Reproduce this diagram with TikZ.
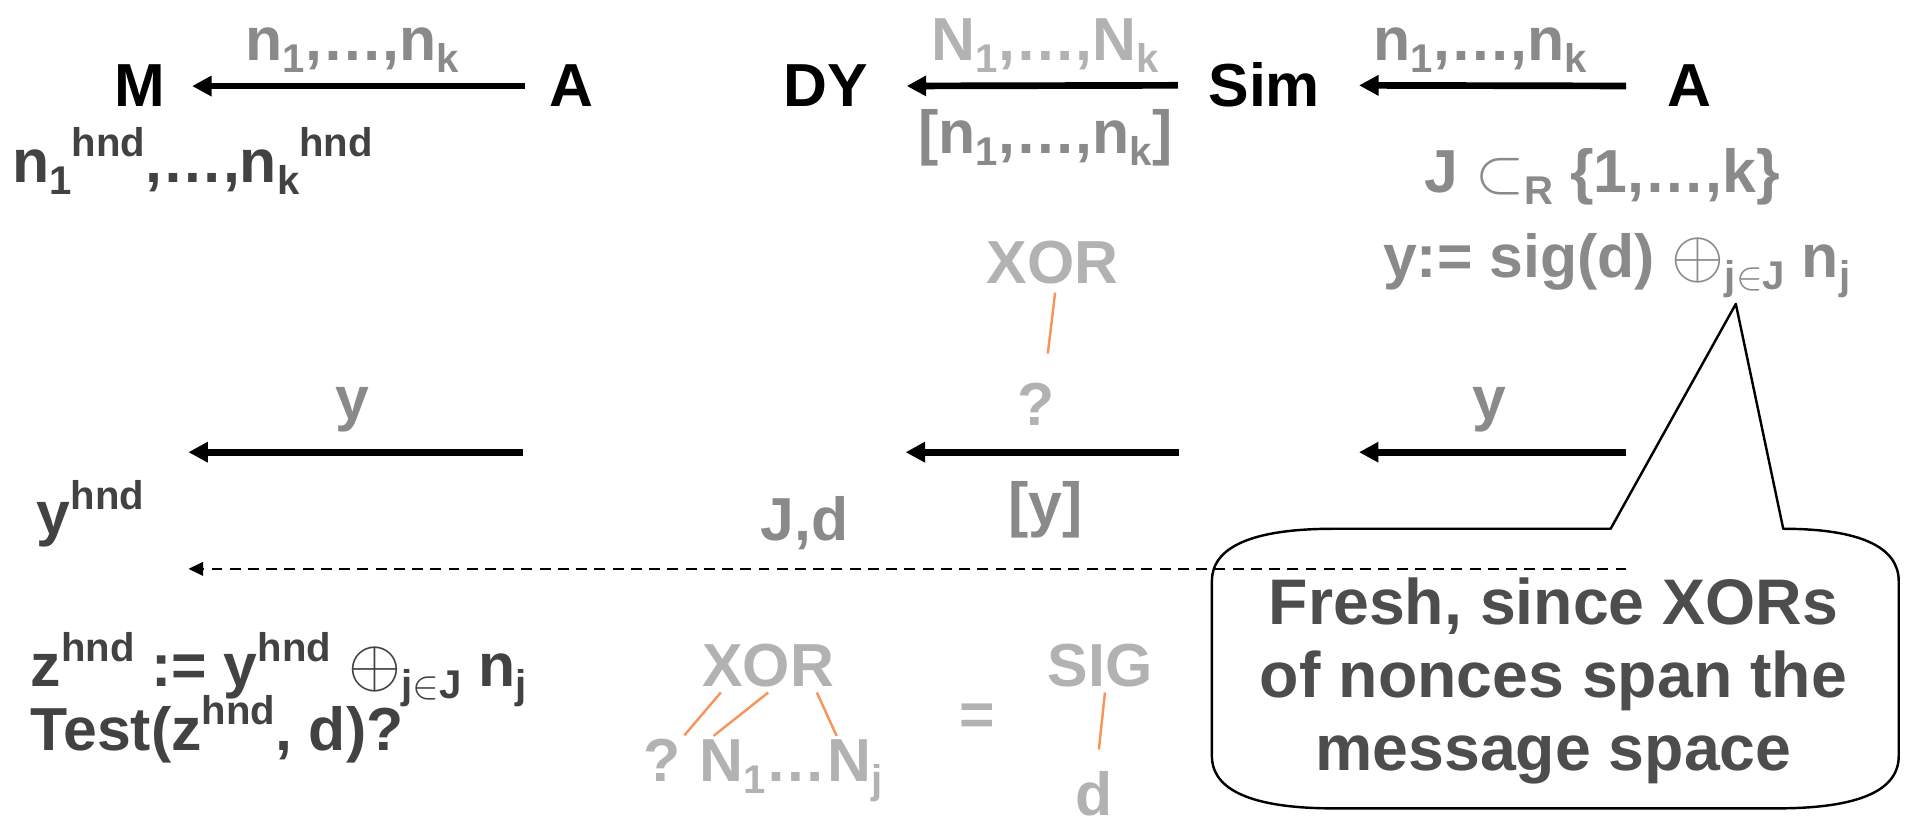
\documentclass[tikz,border=0pt]{standalone}
\usepackage{graphicx}
\usepackage{fontspec}
\setmainfont{Liberation Sans}
\usetikzlibrary{arrows.meta}

\definecolor{inkmid}{HTML}{8A8A8A}
\definecolor{inklight}{HTML}{B2B2B2}
\definecolor{inkdark}{HTML}{424242}
\definecolor{notetext}{HTML}{4D4D4D}
\definecolor{twig}{HTML}{F7945A}

% index helpers
\newcommand\lowidx[1]{\raisebox{-0.2em}{\fontsize{33}{33}\selectfont #1}}
\newcommand\highidx[1]{\raisebox{0.42em}{\fontsize{33}{33}\selectfont #1}}
% thin operator symbols, taken at 10pt and enlarged
\newcommand\bigxor{\scalebox{5.6}{\normalsize$\oplus$}}
\newcommand\subsetsym{\scalebox{5.2}{\normalsize$\subset$}}
\newcommand\insym{\scalebox{3.3}{\normalsize$\in$}}

\tikzset{
  txt/.style={font=\fontsize{50}{60}\selectfont\bfseries, inner sep=0pt},
  party/.style={txt, text=black, anchor=base},
  lblmid/.style={txt, text=inkmid, anchor=base},
  lbllight/.style={txt, text=inklight, anchor=base},
  lbldark/.style={txt, text=inkdark, anchor=base west},
  msg/.style={line width=5.5pt, -{Triangle[length=16pt,width=16pt]}},
  fake/.style={line width=2pt, dash pattern=on 9pt off 6pt, -{Triangle[length=12pt,width=11pt]}},
  branch/.style={twig, line width=2pt},
  bubble/.style={line width=2pt, line join=round},
}

\begin{document}
\begin{tikzpicture}[x=1pt,y=-1pt]
\useasboundingbox (0,0) rectangle (1568,683);

% ---- parties
\node[party] (M)   at (115,88) {M};
\node[party] (A1)  at (470,88) {A};
\node[party] (DY)  at (679,88) {DY};
\node[party] (Sim) at (1040,88) {Sim};
\node[party] (A2)  at (1390,88) {A};

% ---- first round
\draw[msg, shorten <=20pt, shorten >=22pt] (A1.west) -- (M.east);
\draw[msg, shorten <=25pt, shorten >=32pt] (Sim.west) -- (DY.east);
\draw[msg, shorten <=34pt, shorten >=32pt] (A2.west) -- (Sim.east);

\node[lblmid]   (nl)  at (290,50)  {n\lowidx{1},…,n\lowidx{k}};
\node[lbllight] (Nl)  at (860,50)  {N\lowidx{1},…,N\lowidx{k}};
\node[lblmid]   (nb)  at (860,126) {[n\lowidx{1},…,n\lowidx{k}]};
\node[lblmid]   (nr)  at (1218,50) {n\lowidx{1},…,n\lowidx{k}};
\node[lbldark]  (nh)  at (10,150)  {n\lowidx{1}\highidx{hnd},…,n\lowidx{k}\highidx{hnd}};
\node[lblmid]   (Jr)  at (1318,158) {J \subsetsym\lowidx{R} \{1,…,k\}};
\node[lblmid]   (yr)  at (1330,228) {y:= sig(d) \bigxor\lowidx{j\insym J} n\lowidx{j}};

% ---- simulator's view of y
\node[lbllight] (xm) at (866,233) {XOR};
\node[lbllight] (qm) at (852,350) {?};
\draw[branch] ([shift={(2,7)}]xm.south) -- ([shift={(10,-24)}]qm.north);

% ---- second round
\coordinate (lt2) at (155,372);
\coordinate (rt2) at (430,372);
\coordinate (lm2) at (745,372);
\coordinate (rm2) at (970,372);
\coordinate (lr2) at (1118,372);
\coordinate (rr2) at (1338,372);
\draw[msg] (rt2) -- (lt2);
\draw[msg] (rm2) -- (lm2);
\draw[msg] (rr2) -- (lr2);

\node[lblmid]  (yl)  at (290,345)  {y};
\node[lblmid]  (yrr) at (1225,345) {y};
\node[lblmid]  (yb)  at (860,432)  {[y]};
\node[lbldark] (yh)  at (30,440)   {y\highidx{hnd}};
\node[lblmid]  (Jd)  at (662,445)  {J,d};

% ---- speech bubble
\draw[bubble] (1325,435) -- (1428,250) -- (1467,435)
  .. controls (1530,435) and (1562,450) .. (1562,478)
  -- (1562,622)
  .. controls (1562,650) and (1530,665) .. (1462,665)
  -- (1097,665)
  .. controls (1030,665) and (997,650) .. (997,622)
  -- (997,478)
  .. controls (997,450) and (1030,435) .. (1097,435)
  -- cycle;

% ---- leaked answer
\coordinate (ld) at (155,468);
\coordinate (rd) at (1338,468);
\draw[fake] (rd) -- (ld);

\node[txt, text=notetext, align=center, anchor=north,
      font=\fontsize{53}{60}\selectfont\bfseries] (note) at (1278,475)
  {Fresh, since XORs\\of nonces span the\\message space};

% ---- adversary's test
\node[lbldark] (zh) at (25,565) {z\highidx{hnd} := y\highidx{hnd} \bigxor\lowidx{j\insym J} n\lowidx{j}};
\node[lbldark] (ts) at (25,617) {Test(z\highidx{hnd}, d)?};

% ---- equation XOR(?,N1..Nj) = SIG(d)
\node[lbllight] (xb) at (632,565) {XOR};
\node[lbllight] (qb) at (545,643) {?};
\node[txt, text=inklight, anchor=base west] (N1) at (575,643) {N\lowidx{1}};
\node[txt, text=inklight, anchor=base west] (dots) at (N1.base east) {…};
\node[txt, text=inklight, anchor=base west] (Nj) at (dots.base east) {N\lowidx{j}};
\node[lbllight] (eq) at (804,605) {=};
\node[lbllight] (sig) at (905,565) {SIG};
\node[lbllight] (dd) at (900,671) {d};

\draw[branch] ([shift={(-39,4)}]xb.south) -- ([shift={(18,-3)}]qb.north);
\draw[branch] ([shift={(0,4)}]xb.south) -- ([shift={(12,-3)}]N1.north west);
\draw[branch] ([shift={(40,4)}]xb.south) -- ([shift={(8,-3)}]Nj.north west);
\draw[branch] ([shift={(4,4)}]sig.south) -- ([shift={(4,-18)}]dd.north);
\end{tikzpicture}
\end{document}
